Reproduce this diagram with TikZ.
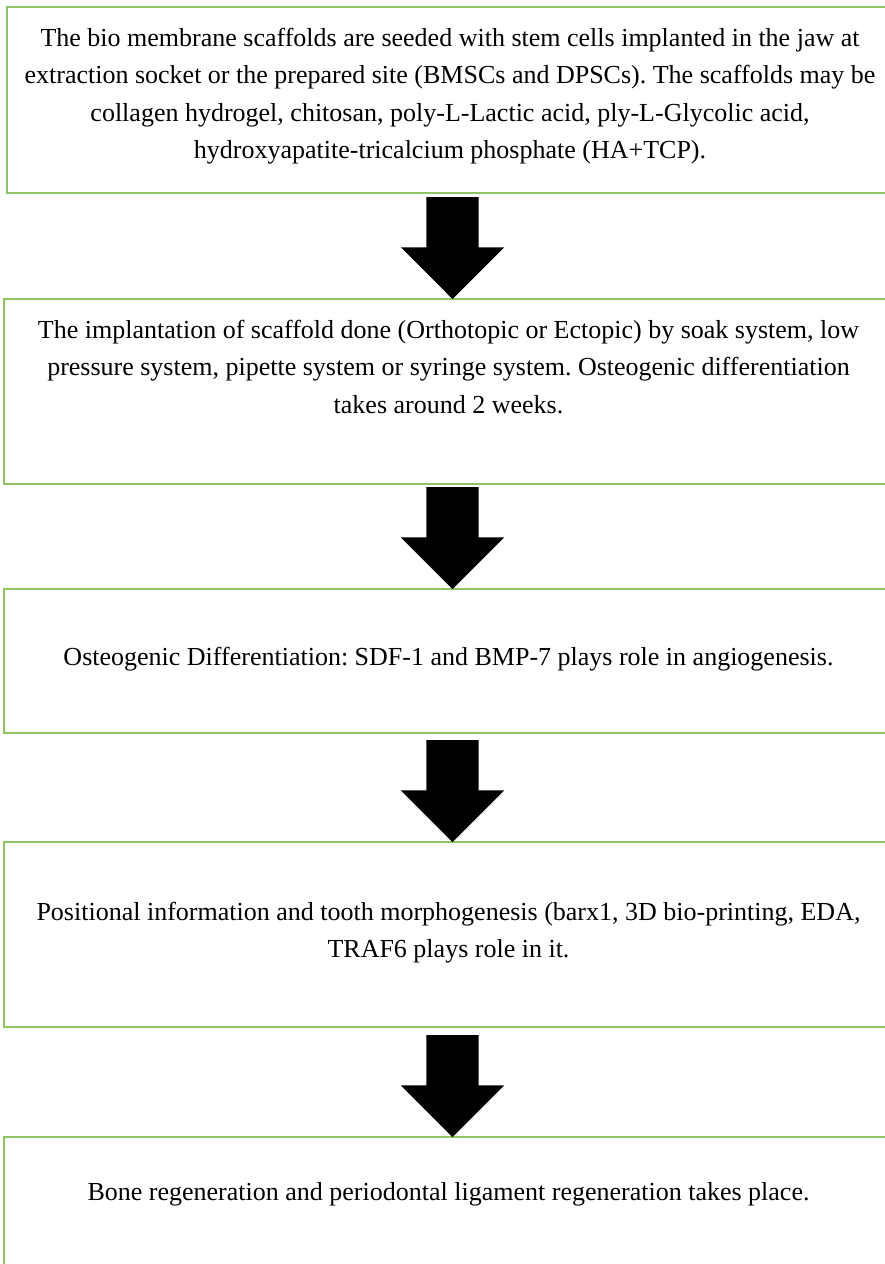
\documentclass[tikz,border=0pt]{standalone}
\usepackage{fontspec}
\setmainfont{Liberation Serif}
\frenchspacing
\usepackage{tikz}
\usetikzlibrary{positioning,shapes.arrows}
\definecolor{boxgreen}{RGB}{143,196,100}
\newcommand*\boxwd{889pt}
\newcommand*\arrowgap{4pt}
\tikzset{
    stepbox/.style  = {draw=boxgreen, line width=2pt, fill=none,
                      minimum width=\boxwd, inner sep=0pt, outer sep=0pt,
                      anchor=north west},
    steptext/.style = {align=center, inner sep=0pt, outer sep=0pt,
                      anchor=north, font=\fontsize{26}{37.5}\selectfont},
    flowarrow/.style= {single arrow, fill=black, draw=none,
                      minimum height=102pt,
                      inner xsep=0pt, inner ysep=26pt, outer sep=0pt,
                      single arrow head extend=25.5pt,
                      rotate=-90, anchor=tip},
  }

\begin{document}
\begin{tikzpicture}[x=1pt,y=-1pt]
      \useasboundingbox (0,0) rectangle (885,1264);
      \clip (0,0) rectangle (885,1264);

      % the five boxes
      \node[stepbox, minimum width=886pt, minimum height=186pt] (b1) at (7,7) {};
      \node[stepbox, minimum height=185pt] (b2) at (4,299) {};
      \node[stepbox, minimum height=144pt] (b3) at (4,589) {};
      \node[stepbox, minimum height=185pt] (b4) at (4,842) {};
      \node[stepbox, minimum height=170pt] (b5) at (4,1137) {};

      % texts, hanging from the top of each box
      \node[steptext, below=21pt of b1.north] (t1) {The bio membrane scaffolds are seeded with stem cells implanted in the jaw at\\
        extraction socket or the prepared site (BMSCs and DPSCs). The scaffolds may be\\
        collagen hydrogel, chitosan, poly-L-Lactic acid, ply-L-Glycolic acid,\\
        hydroxyapatite-tricalcium phosphate (HA+TCP).};
      \node[steptext, below=21pt of b2.north] (t2) {The implantation of scaffold done (Orthotopic or Ectopic) by soak system, low\\
        pressure system, pipette system or syringe system. Osteogenic differentiation\\
        takes around 2 weeks.};
      \node[steptext, below=58pt of b3.north] (t3) {Osteogenic Differentiation: SDF-1 and BMP-7 plays role in angiogenesis.};
      \node[steptext, below=60pt of b4.north] (t4) {Positional information and tooth morphogenesis (barx1, 3D bio-printing, EDA,\\
        TRAF6 plays role in it.};
      \node[steptext, below=45pt of b5.north] (t5) {Bone regeneration and periodontal ligament regeneration takes place.};

      % block arrows: tip sits on the top of the next box
      \foreach \i/\j in {1/2,2/3,3/4,4/5} {
        \node[flowarrow] (a\i) at ([xshift=\arrowgap]b\j.north) {};
      }
    \end{tikzpicture}
\end{document}
